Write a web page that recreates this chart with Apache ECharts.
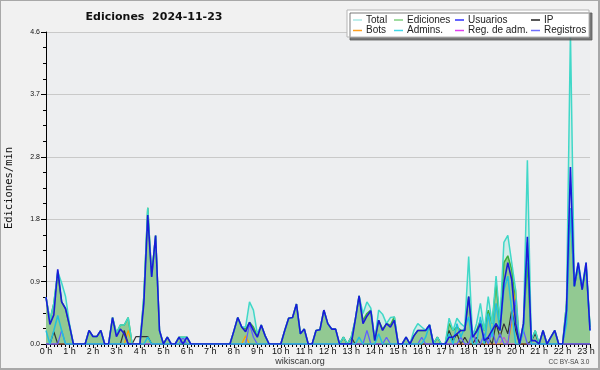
<!DOCTYPE html>
<html><head><meta charset="utf-8">
<script src="https://cdn.jsdelivr.net/npm/echarts@6/dist/echarts.min.js"></script>
<style>
html,body{margin:0;padding:0;background:#f1f1f1;}
#wrap{position:relative;width:600px;height:370px;}
#c{width:600px;height:370px;}
#frame{position:absolute;left:0;top:0;width:600px;height:370px;box-sizing:border-box;border:1px solid #a8a8a8;border-right-width:2px;border-bottom-width:2px;pointer-events:none;}
</style>
</head><body>
<div id="wrap"><div id="c"></div><div id="frame"></div></div>
<script>
// 10-minute slots, 00:00 .. 23:10
const slotCount = 140;
const hourTicks = ['0','1','2','3','4','5','6','7','8','9','10','11','12','13','14','15','16','17','18','19','20','21','22','23'];

const total = [
0.69,0.35,0.6,1.07,0.9,0.7,0.3,0,0,0,
0,0.2,0.11,0.11,0.2,0,0,0.39,0.16,0.28,
0.28,0.39,0,0,0,0.7,2.01,1.0,1.6,0.2,
0,0.1,0,0,0.1,0.1,0.1,0,0,0,
0,0,0,0,0,0,0,0,0.19,0.39,
0.25,0.25,0.62,0.5,0.15,0.28,0.12,0,0,0,
0,0.2,0.38,0.39,0.59,0.15,0.22,0,0,0.2,
0.21,0.5,0.3,0.22,0.22,0,0.1,0,0.1,0.35,
0.71,0.45,0.62,0.53,0.05,0.5,0.44,0.3,0.39,0.4,
0,0,0.1,0,0.2,0.3,0.25,0.2,0.28,0,
0.1,0,0,0.38,0.2,0.38,0.3,0.25,1.29,0.1,
0.3,0.6,0.2,0.7,0.3,1.0,0.35,1.5,1.6,1.2,
0.8,0,0.3,2.71,0.05,0.2,0,0.2,0,0.1,
0.2,0,0,0.6,4.6,0.9,1.2,0.85,1.2,0.25
];
const ediciones = [
0.69,0.35,0.6,1.05,0.62,0.52,0.27,0,0,0,
0,0.2,0.11,0.11,0.2,0,0,0.39,0.16,0.28,
0.28,0.39,0,0,0,0.7,2.01,1.0,1.6,0.2,
0,0.1,0,0,0.1,0.1,0.1,0,0,0,
0,0,0,0,0,0,0,0,0.19,0.39,
0.25,0.22,0.32,0.25,0.12,0.28,0.12,0,0,0,
0,0.2,0.38,0.39,0.59,0.15,0.22,0,0,0.2,
0.21,0.5,0.3,0.22,0.22,0,0.1,0,0.1,0.35,
0.71,0.35,0.45,0.5,0.05,0.35,0.22,0.3,0.28,0.4,
0,0,0.1,0,0.12,0.2,0.2,0.2,0.28,0,
0.1,0,0,0.3,0.2,0.25,0.2,0.2,0.7,0.1,
0.2,0.35,0.2,0.5,0.3,0.9,0.3,1.2,1.3,1.1,
0.6,0,0.3,1.2,0.05,0.2,0,0.2,0,0.1,
0.2,0,0,0.6,2.0,0.85,1.15,0.8,1.15,0.25
];
const usuarios = [
0.69,0.29,0.43,1.10,0.62,0.52,0.27,0,0,0,
0,0.2,0.11,0.11,0.2,0,0,0.39,0.11,0.22,
0.15,0,0,0,0,0.6,1.9,0.99,1.6,0.2,
0,0.1,0,0,0.1,0,0.1,0,0,0,
0,0,0,0,0,0,0,0,0.19,0.39,
0.25,0.18,0.32,0.2,0.1,0.28,0.12,0,0,0,
0,0.2,0.38,0.39,0.59,0.15,0.22,0,0,0.2,
0.21,0.5,0.3,0.22,0.22,0,0,0,0,0.35,
0.71,0.3,0.41,0.49,0.05,0.35,0.2,0.3,0.25,0.35,
0,0,0.1,0,0.12,0.2,0.2,0.2,0.28,0,
0,0,0,0.1,0.1,0.15,0.2,0.2,0.7,0.1,
0.18,0.3,0.05,0.1,0.2,0.3,0.2,0.9,1.2,0.95,
0.3,0,0.3,1.58,0.05,0.05,0,0.2,0,0.1,
0.2,0,0,0.5,2.61,0.85,1.2,0.8,1.2,0.2
];
const ip = [
0,0,0.18,0,0,0,0,0,0,0,
0,0,0,0,0,0,0,0,0,0,
0.2,0,0,0.11,0.11,0.11,0.11,0,0,0,
0,0,0,0,0,0,0,0,0,0,
0,0,0,0,0,0,0,0,0,0,
0,0,0,0,0,0,0,0,0,0,
0,0,0,0,0,0,0,0,0,0,
0,0,0,0,0,0,0.1,0,0.1,0,
0,0,0,0,0,0,0,0,0,0,
0,0,0,0,0,0,0,0,0,0,
0.1,0,0,0.2,0.05,0.15,0,0.1,0,0,
0.1,0,0,0.1,0,0.3,0.1,0.3,0.15,0.5,
0.2,0,0,0,0.05,0.15,0,0,0,0,
0,0,0,0,0,0,0,0,0,0
];
const bots = [
0,0,0,0,0,0,0,0,0,0,
0,0,0,0,0,0,0,0,0,0,
0,0.2,0,0,0,0,0,0,0,0,
0,0,0,0,0,0,0,0,0,0,
0,0,0,0,0,0,0,0,0,0,
0,0.12,0,0,0,0,0,0,0,0,
0,0,0,0,0,0,0,0,0,0,
0,0,0,0,0,0,0,0,0,0,
0,0,0,0,0,0,0,0,0,0,
0,0,0,0,0,0,0,0,0,0,
0,0,0,0,0,0,0,0,0,0,
0,0,0,0,0,0,0,0,0,0.3,
0.8,0,0,0,0,0,0,0,0,0,
0,0,0,0,0,0,0,0,0,0
];
const admins = [
0.2,0,0.2,0.42,0.2,0,0,0,0,0,
0,0,0,0,0,0,0,0,0,0,
0,0,0,0,0,0,0.1,0,0,0,
0,0,0,0,0,0,0,0,0,0,
0,0,0,0,0,0,0,0,0,0,
0,0,0,0,0,0,0,0,0,0,
0,0,0,0,0,0,0,0,0,0,
0,0,0,0,0,0,0,0,0,0,
0.1,0,0,0,0,0.15,0,0,0,0,
0,0,0,0,0,0,0,0.1,0.28,0,
0,0,0,0.15,0,0.3,0.1,0.25,0.4,0,
0,0.4,0,0.45,0.1,0.6,0.2,0.8,1.0,0.5,
0,0,0.2,1.5,0,0,0,0,0,0,
0,0,0,0.3,2.0,0.85,1.15,0.8,1.15,0.2
];
const regAdm = [
0,0,0,0,0,0,0,0,0,0,
0,0,0,0,0,0,0,0,0,0,
0,0,0,0,0,0,0,0,0,0,
0,0,0,0,0,0,0,0,0,0,
0,0,0,0,0,0,0,0,0,0,
0,0,0,0,0,0,0,0,0,0,
0,0,0,0,0,0,0,0,0,0,
0,0,0,0,0,0,0,0,0,0,
0,0,0,0,0,0,0,0,0,0,
0,0,0,0,0,0,0,0,0,0,
0,0,0,0,0,0,0,0,0,0,
0.1,0,0,0,0,0,0,0.1,0,0,
0,0,0,0,0,0,0,0,0,0,
0,0,0,0,0,0,0,0,0,0
];
const registros = [
0,0,0,0,0.2,0,0,0,0,0,
0,0,0,0,0,0,0,0,0,0,
0,0,0,0,0,0,0,0,0,0,
0,0,0,0,0,0.1,0,0,0,0,
0,0,0,0,0,0,0,0,0,0,
0,0,0.3,0.1,0,0,0,0,0,0,
0,0,0,0,0,0,0,0,0,0,
0,0,0,0,0,0,0,0,0,0,
0,0,0.2,0,0,0,0,0.1,0,0,
0,0,0,0,0,0,0.1,0,0,0,
0,0,0,0,0,0,0.1,0,0,0.2,
0,0,0.15,0,0.2,0,0.15,0,0,0.4,
0.65,0,0.2,0,0,0,0,0,0,0,
0,0,0,0,0,0,0,0,0,0
];

const yTicks = [0, 0.92, 1.84, 2.76, 3.68, 4.6];

const slotHour = i => i / 6;
const pts = arr => arr.map((v, i) => [slotHour(i), v]);

function lineSeries(name, data, color, width, z) {
  return { name, type: 'line', data: pts(data), showSymbol: false, symbol: 'none',
    lineStyle: { color, width }, itemStyle: { color }, z, silent: true, animation: false };
}

const chart = echarts.init(document.getElementById('c'), null, { renderer: 'canvas' });
const FONT = '"Liberation Sans", Arial, sans-serif';

function legendCol(left, items) {
  return { left, top: 15, orient: 'vertical', padding: 0, itemGap: 0.5, itemWidth: 9, itemHeight: 1.5,
    icon: 'rect', selectedMode: false,
    textStyle: { fontFamily: FONT, fontSize: 10, color: '#222', lineHeight: 9, padding: [0,0,0,-1] },
    data: items.map(([n, c]) => ({ name: n, itemStyle: { color: c } })), z: 20 };
}

chart.setOption({
  backgroundColor: '#f1f1f1',
  animation: false,
  grid: { left: 46, right: 10, top: 32, bottom: 26, show: true, backgroundColor: '#edeef0', borderWidth: 0,
    containLabel: false, outerBoundsMode: 'none' },
  xAxis: {
    type: 'value', min: 0, max: slotHour(slotCount - 1), interval: 1,
    axisLine: { onZero: false, lineStyle: { color: '#000', width: 1 } },
    axisTick: { show: true, length: 4, lineStyle: { color: '#000' } },
    minorTick: { show: true, splitNumber: 6, length: 3, lineStyle: { color: '#000' } },
    splitLine: { show: false },
    axisLabel: { margin: 3, fontFamily: FONT, fontSize: 9, color: '#111', showMaxLabel: false,
      formatter: v => (Number.isInteger(v) ? hourTicks[v] + ' h' : '') }
  },
  yAxis: {
    type: 'value', min: yTicks[0], max: yTicks[yTicks.length - 1], interval: yTicks[1],
    name: 'Ediciones/min', nameLocation: 'middle', nameGap: 31, nameRotate: 90,
    nameTextStyle: { fontFamily: '"DejaVu Sans Mono", monospace', fontSize: 10.5, color: '#111' },
    axisLine: { show: true, lineStyle: { color: '#000', width: 1 } },
    axisTick: { show: true, length: 5, lineStyle: { color: '#000' } },
    minorTick: { show: true, splitNumber: 4, length: 3, lineStyle: { color: '#000' } },
    splitLine: { show: true, lineStyle: { color: '#c9c9c9', width: 1 } },
    axisLabel: { margin: 6, fontFamily: FONT, fontSize: 7, color: '#111', formatter: v => v.toFixed(1) }
  },
  legend: [
    legendCol(353, [['Total', '#a8e8e4'], ['Bots', '#ffa020']]),
    legendCol(394, [['Ediciones', '#80d080'], ['Admins.', '#40d8e8']]),
    legendCol(455, [['Usuarios', '#3030ff'], ['Reg. de adm.', '#e040f0']]),
    legendCol(531, [['IP', '#202020'], ['Registros', '#7070ff']])
  ],
  graphic: [
    { type: 'rect', z: 10, shape: { x: 347, y: 10, width: 242, height: 27 },
      style: { fill: '#ffffff', stroke: '#b5b5b5', lineWidth: 1, shadowColor: 'rgba(90,90,90,0.8)', shadowOffsetX: 3, shadowOffsetY: 3, shadowBlur: 0 } },
    { type: 'text', z: 10, style: { x: 154, y: 17, text: 'Ediciones  2024-11-23', font: 'bold 11px "DejaVu Sans", sans-serif', fill: '#111', align: 'center', verticalAlign: 'middle' } },
    { type: 'text', z: 10, style: { x: 300, y: 362, text: 'wikiscan.org', font: '9px ' + FONT, fill: '#333', align: 'center', verticalAlign: 'middle' } },
    { type: 'text', z: 10, style: { x: 569, y: 362, text: 'CC BY-SA 3.0', font: '6.5px ' + FONT, fill: '#444', align: 'center', verticalAlign: 'middle' } }
  ],
  series: [
    { name: 'Total (área)', type: 'line', data: pts(total), showSymbol: false, symbol: 'none',
      lineStyle: { width: 0 }, areaStyle: { color: 'rgba(160,230,215,0.5)' }, z: 1, silent: true },
    { name: 'Ediciones', type: 'line', data: pts(ediciones), showSymbol: false, symbol: 'none',
      lineStyle: { color: '#3cb03c', width: 1.5 }, itemStyle: { color: '#3cb03c' },
      areaStyle: { color: '#92c992', opacity: 1 }, z: 2, silent: true },
    lineSeries('Reg. de adm.', regAdm, '#d040e0', 1, 3),
    lineSeries('Bots', bots, '#ffa000', 1.2, 3),
    lineSeries('IP', ip, '#333333', 1.2, 3),
    lineSeries('Registros', registros, '#6060ff', 1.3, 3),
    lineSeries('Admins.', admins, '#22c0dc', 1.5, 3),
    lineSeries('Total', total, '#40d8c8', 1.5, 4),
    lineSeries('Usuarios', usuarios, '#1a1ad8', 1.6, 5)
  ]
});
</script>
</body></html>
